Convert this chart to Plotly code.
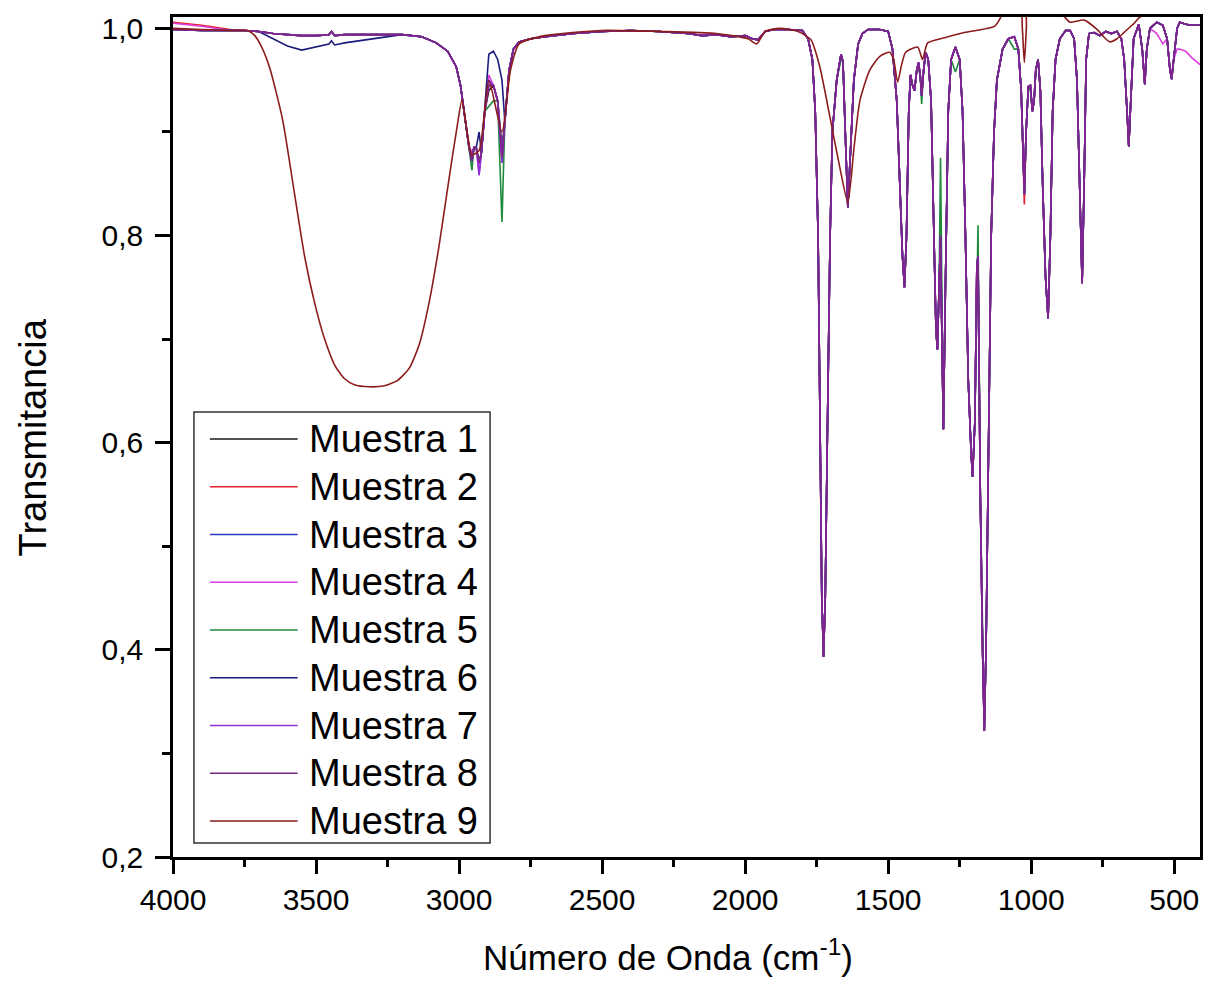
import plotly.graph_objects as go

# ---------------- data ----------------
# shared wavenumber grid for Muestra 1-8 (cm^-1)
WN = [4000, 3900, 3800, 3750, 3700, 3650, 3600, 3550, 3500, 3455, 3446, 3435, 3400, 3300, 3200,
      3130, 3080, 3040, 3010, 2995, 2980, 2965, 2955, 2948, 2940, 2930, 2922, 2910, 2896, 2880,
      2865, 2850, 2840, 2825, 2810, 2790, 2750, 2700, 2600, 2500, 2400, 2300, 2200, 2150, 2100,
      2050, 2000, 1975, 1955, 1930, 1900, 1850, 1800, 1780, 1765, 1755, 1745, 1738, 1732, 1726,
      1720, 1712, 1703, 1695, 1680, 1665, 1658, 1650, 1641, 1632, 1620, 1605, 1590, 1570, 1530,
      1500, 1485, 1470, 1460, 1450, 1443, 1436, 1428, 1422, 1415, 1408, 1400, 1394, 1388, 1383,
      1376, 1369, 1360, 1350, 1340, 1333, 1328, 1322, 1317, 1312, 1307, 1300, 1290, 1280, 1265,
      1250, 1240, 1230, 1220, 1210, 1205, 1197, 1190, 1186, 1178, 1170, 1164, 1158, 1150, 1140,
      1130, 1120, 1100, 1080, 1059, 1045, 1035, 1028, 1024, 1018, 1010, 1003, 996, 990, 984,
      976, 968, 960, 950, 941, 933, 925, 915, 900, 880, 864, 850, 840, 830, 822,
      815, 808, 798, 780, 760, 740, 720, 700, 685, 675, 665, 659, 652, 642, 624,
      612, 603, 596, 585, 561, 540, 525, 515, 509, 502, 490, 481, 460, 440, 410]

T_BASE = [0.999, 0.998, 0.998, 0.998, 0.997, 0.995, 0.994, 0.993, 0.993, 0.994, 0.997, 0.993, 0.994, 0.994, 0.994,
          0.992, 0.986, 0.978, 0.963, 0.945, 0.915, 0.885, 0.872, 0.885, 0.885, 0.870, 0.880, 0.920, 0.940, 0.945,
          0.930, 0.885, 0.910, 0.960, 0.980, 0.987, 0.990, 0.992, 0.995, 0.997, 0.998, 0.997, 0.995, 0.993, 0.994,
          0.992, 0.993, 0.990, 0.989, 0.997, 0.999, 0.999, 0.998, 0.990, 0.970, 0.920, 0.800, 0.620, 0.450, 0.393,
          0.450, 0.620, 0.800, 0.900, 0.950, 0.975, 0.968, 0.900, 0.827, 0.880, 0.950, 0.985, 0.995, 0.999, 0.999,
          0.997, 0.980, 0.930, 0.860, 0.780, 0.750, 0.800, 0.920, 0.955, 0.945, 0.940, 0.960, 0.967, 0.955, 0.935,
          0.960, 0.977, 0.970, 0.930, 0.800, 0.710, 0.690, 0.750, 0.800, 0.700, 0.613, 0.750, 0.920, 0.970, 0.982,
          0.970, 0.920, 0.800, 0.660, 0.590, 0.567, 0.620, 0.770, 0.780, 0.550, 0.400, 0.322, 0.400, 0.600, 0.800,
          0.900, 0.950, 0.980, 0.990, 0.992, 0.980, 0.940, 0.880, 0.840, 0.900, 0.944, 0.945, 0.920, 0.930, 0.960,
          0.970, 0.940, 0.850, 0.760, 0.720, 0.800, 0.920, 0.970, 0.990, 0.998, 0.998, 0.990, 0.950, 0.830, 0.754,
          0.850, 0.970, 0.995, 0.996, 0.993, 0.997, 0.995, 0.997, 0.990, 0.970, 0.920, 0.886, 0.930, 0.990, 1.004,
          0.980, 0.946, 0.980, 1.000, 1.006, 1.003, 0.990, 0.960, 0.951, 0.970, 1.000, 1.006, 1.004, 1.003, 1.003]

# per-sample values where a sample departs from the common trace (wavenumber: transmittance)
M1 = {}
M2 = {4000: 1.006, 3900: 1.003, 3800: 0.999, 2955: 0.875, 2896: 0.945, 2850: 0.875, 1024: 0.830}
M3 = {2955: 0.880, 2896: 0.950, 2850: 0.880, 1164: 0.325}
M4 = {4000: 1.005, 3900: 1.002, 2930: 0.860, 2955: 0.880, 2896: 0.955, 2850: 0.870,
      561: 0.995, 540: 0.985, 509: 0.955, 490: 0.980, 481: 0.980, 460: 0.978, 440: 0.972, 410: 0.965}
M5 = {2955: 0.863, 2930: 0.870, 2896: 0.925, 2880: 0.930, 2850: 0.813, 1665: 0.970,
      1394: 0.960, 1383: 0.927, 1317: 0.875, 1265: 0.958, 1186: 0.810, 1059: 0.980, 1003: 0.940}
M6 = {3650: 0.990, 3600: 0.983, 3550: 0.979, 3500: 0.982, 3455: 0.985, 3446: 0.988,
      3435: 0.984, 3400: 0.986, 3300: 0.990, 2930: 0.900, 2896: 0.975, 2880: 0.978,
      2865: 0.970, 2850: 0.950}
M7 = {2930: 0.858, 2896: 0.950, 2850: 0.870}
M8 = {2896: 0.945, 2850: 0.875}

# Muestra 9 has its own trace
WN9 = [4000, 3900, 3800, 3742, 3732, 3714, 3690, 3662, 3617, 3575, 3540, 3505, 3470, 3435, 3401,
       3366, 3314, 3261, 3216, 3174, 3139, 3105, 3070, 3035, 3007, 2990, 2972, 2955, 2930, 2896,
       2850, 2820, 2790, 2700, 2500, 2300, 2100, 1990, 1960, 1930, 1880, 1815, 1770, 1739, 1704,
       1670, 1641, 1620, 1599, 1564, 1529, 1495, 1481, 1467, 1453, 1439, 1397, 1380, 1362, 1303,
       1234, 1129, 1108, 1080, 1040, 1031, 1024, 1017, 1010, 920, 905, 880, 864, 815, 770,
       740, 725, 700, 676, 640, 624, 561, 410]
T9 = [1.000, 0.999, 0.998, 0.998, 0.997, 0.993, 0.982, 0.962, 0.912, 0.840, 0.780, 0.735, 0.700, 0.675, 0.662,
      0.656, 0.654, 0.655, 0.660, 0.672, 0.695, 0.735, 0.790, 0.855, 0.905, 0.931, 0.900, 0.878, 0.882, 0.950,
      0.900, 0.960, 0.985, 0.993, 0.998, 0.997, 0.995, 0.990, 0.985, 0.997, 1.000, 0.997, 0.989, 0.963, 0.915,
      0.867, 0.832, 0.883, 0.930, 0.960, 0.973, 0.977, 0.970, 0.948, 0.965, 0.977, 0.982, 0.970, 0.986, 0.991,
      0.996, 1.002, 1.010, 1.030, 1.030, 1.000, 0.967, 1.000, 1.030, 1.030, 1.020, 1.010, 1.006, 1.008, 0.999,
      0.990, 0.987, 0.990, 0.996, 1.005, 1.010, 1.020, 1.020]

NAMES = ["Muestra 1", "Muestra 2", "Muestra 3", "Muestra 4", "Muestra 5",
         "Muestra 6", "Muestra 7", "Muestra 8", "Muestra 9"]
COLORS = ["#1a1a1a", "#e3212b", "#2b3cc4", "#dc3ee0", "#1f8a3c",
          "#1c1c7c", "#9030d8", "#7e2488", "#8c1c1c"]
OVERRIDES = [M1, M2, M3, M4, M5, M6, M7, M8]

X_TICKS = [4000, 3500, 3000, 2500, 2000, 1500, 1000, 500]
Y_TICKS = [0.2, 0.4, 0.6, 0.8, 1.0]
Y_TICK_TEXT = ["0,2", "0,4", "0,6", "0,8", "1,0"]

# ---------------- figure ----------------
W, H = 1206, 985
ML, MR, MT, MB = 173, 3, 17, 128
PW, PH = W - ML - MR, H - MT - MB

def px_x(p):
    return (p - ML) / PW

def px_y(p):
    return (H - MB - p) / PH

fig = go.Figure()
for name, color, ov in zip(NAMES[:8], COLORS[:8], OVERRIDES):
    ys = [ov.get(w, t) for w, t in zip(WN, T_BASE)]
    fig.add_trace(go.Scatter(x=WN, y=ys, mode="lines", name=name,
                             line=dict(color=color, width=1.6), showlegend=False))
fig.add_trace(go.Scatter(x=WN9, y=T9, mode="lines", name=NAMES[8],
                         line=dict(color=COLORS[8], width=1.6, shape="spline", smoothing=0.6),
                         showlegend=False))

FONT = "Liberation Sans, Arial, sans-serif"

fig.update_layout(
    width=W, height=H,
    margin=dict(l=ML, r=MR, t=MT, b=MB),
    paper_bgcolor="white", plot_bgcolor="white",
    font=dict(family=FONT, color="black"),
    showlegend=False,
)
fig.update_xaxes(
    range=[4000, 410], tickmode="array", tickvals=X_TICKS,
    ticks="outside", ticklen=14, tickwidth=2.5, tickcolor="black",
    showline=True, linewidth=2.5, linecolor="black", mirror=True,
    showgrid=False, zeroline=False,
    tickfont=dict(size=30, family=FONT, color="black"),
    minor=dict(ticks="outside", ticklen=7, tickwidth=2.5, tickcolor="black",
               tickmode="array", tickvals=[3750, 3250, 2750, 2250, 1750, 1250, 750], showgrid=False),
)
fig.update_yaxes(
    range=[0.2, 1.011], tickmode="array", tickvals=Y_TICKS, ticktext=Y_TICK_TEXT,
    ticks="outside", ticklen=15, tickwidth=2.5, tickcolor="black",
    showline=True, linewidth=2.5, linecolor="black", mirror=True,
    showgrid=False, zeroline=False,
    tickfont=dict(size=30, family=FONT, color="black"),
    ticklabelstandoff=6,
    minor=dict(ticks="outside", ticklen=8, tickwidth=2.5, tickcolor="black",
               tickmode="array", tickvals=[0.3, 0.5, 0.7, 0.9], showgrid=False),
)

# legend box drawn in paper coordinates
shapes = [dict(type="rect", xref="paper", yref="paper",
               x0=px_x(194), x1=px_x(491), y0=px_y(843), y1=px_y(412),
               line=dict(color="#333333", width=1.5), fillcolor="white", layer="above")]
annotations = []
for i, (name, color) in enumerate(zip(NAMES, COLORS)):
    yy = px_y(439 + 47.75 * i)
    shapes.append(dict(type="line", xref="paper", yref="paper",
                       x0=px_x(210), x1=px_x(298), y0=yy, y1=yy,
                       line=dict(color=color, width=1.5), layer="above"))
    annotations.append(dict(xref="paper", yref="paper", x=px_x(307), y=yy,
                            xanchor="left", yanchor="middle", showarrow=False,
                            text=name, font=dict(size=38, family=FONT, color="black")))

annotations.append(dict(xref="paper", yref="paper", x=px_x(669), y=px_y(955),
                        xanchor="center", yanchor="middle", showarrow=False,
                        text="Número de Onda (cm<sup>-1</sup>)",
                        font=dict(size=35, family=FONT, color="black")))
annotations.append(dict(xref="paper", yref="paper", x=px_x(33), y=px_y(437),
                        xanchor="center", yanchor="middle", showarrow=False, textangle=-90,
                        text="Transmitancia",
                        font=dict(size=38, family=FONT, color="black")))

fig.update_layout(shapes=shapes, annotations=annotations)
fig.write_html("out.html")
